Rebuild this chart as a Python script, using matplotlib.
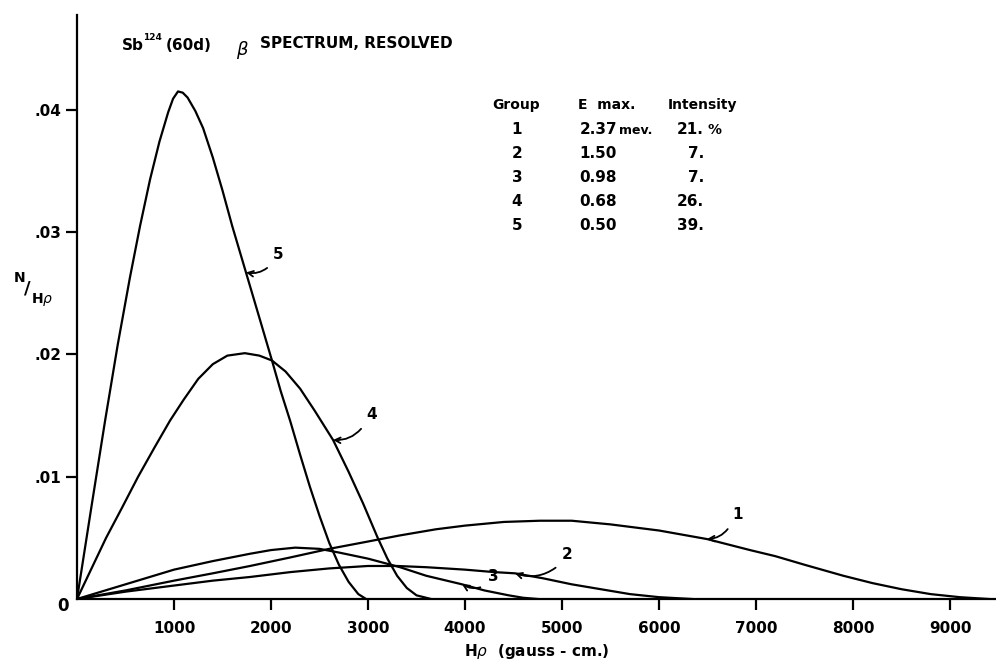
import matplotlib
matplotlib.use('Agg')
import matplotlib.pyplot as plt

plt.rcParams['font.family'] = ['DejaVu Sans']

# curve points: H-rho (gauss-cm) and N/H-rho
g1_x = [0, 500, 1000, 1400, 1784, 2200, 2600, 3000, 3330, 3700, 4000, 4400, 4773, 5100, 5500,
        6000, 6495, 6938, 7200, 7500, 7900, 8200, 8500, 8800, 9100, 9400]
g1_y = [0, 0.0007, 0.0015, 0.0021, 0.0027, 0.0034, 0.0041, 0.0047, 0.0052, 0.0057, 0.0060, 0.0063,
        0.0064, 0.0064, 0.0061, 0.0056, 0.0049, 0.0040, 0.0035, 0.0028, 0.0019, 0.0013, 0.0008,
        0.0004, 0.00015, 0]

g2_x = [0, 500, 1000, 1400, 1784, 2200, 2600, 3000, 3300, 3600, 4000, 4300, 4515, 4800, 5100,
        5400, 5700, 6000, 6340]
g2_y = [0, 0.0006, 0.0011, 0.0015, 0.0018, 0.0022, 0.0025, 0.0027, 0.0027, 0.0026, 0.0024, 0.0022,
        0.0021, 0.0017, 0.0012, 0.0008, 0.0004, 0.00015, 0]

g3_x = [0, 500, 1000, 1400, 1784, 2000, 2250, 2500, 2700, 3000, 3330, 3600, 3969, 4200, 4450,
        4600, 4750]
g3_y = [0, 0.0012, 0.0024, 0.0031, 0.0037, 0.0040, 0.0042, 0.0041, 0.0038, 0.0033, 0.0026, 0.0019,
        0.0012, 0.0007, 0.0003, 0.0001, 0]

g4_x = [0, 150, 300, 460, 630, 800, 960, 1100, 1250, 1400, 1550, 1730, 1880, 2010, 2150, 2300,
        2450, 2640, 2800, 2950, 3100, 3200, 3300, 3400, 3500, 3650]
g4_y = [0, 0.0025, 0.0050, 0.0074, 0.0100, 0.0124, 0.0146, 0.0163, 0.0180, 0.0192, 0.0199, 0.0201,
        0.0199, 0.0195, 0.0186, 0.0172, 0.0154, 0.0130, 0.0104, 0.0078, 0.0050, 0.0033, 0.0019,
        0.0009, 0.0003, 0]

g5_x = [0, 150, 290, 420, 546, 650, 753, 850, 940, 990, 1041, 1090, 1140, 1220, 1300, 1400, 1500,
        1600, 1742, 1880, 2010, 2100, 2200, 2300, 2400, 2500, 2600, 2700, 2800, 2900, 2980]
g5_y = [0, 0.0076, 0.0146, 0.0208, 0.0263, 0.0305, 0.0343, 0.0374, 0.0398, 0.0409, 0.0415, 0.0414,
        0.0410, 0.0399, 0.0385, 0.0361, 0.0334, 0.0305, 0.0267, 0.0230, 0.0195, 0.0170, 0.0145,
        0.0118, 0.0092, 0.0068, 0.0046, 0.0028, 0.0014, 0.0004, 0]

groups = ['1', '2', '3', '4', '5']
e_max = ['2.37', '1.50', '0.98', '0.68', '0.50']
intensity = ['21.', '7.', '7.', '26.', '39.']

# arrow tips on curves and label spots
tips = [(6495, 0.0049), (4515, 0.0021), (3969, 0.0012), (2639, 0.0130), (1742, 0.0267)]
labpos = [(6753, 0.0063), (5000, 0.0030), (4237, 0.00123), (2979, 0.01447), (2021, 0.02755)]

W, H = 996, 667
fig = plt.figure(figsize=(W / 100, H / 100), dpi=100)
ax = fig.add_axes([77 / W, 1 - 599 / H, (W - 77) / W, (599 - 15) / H])

for xs, ys in [(g1_x, g1_y), (g2_x, g2_y), (g3_x, g3_y), (g4_x, g4_y), (g5_x, g5_y)]:
    ax.plot(xs, ys, color='black', lw=1.6, solid_joinstyle='round')

ax.set_xlim(0, 9474)
ax.set_ylim(0, 0.04775)
for s in ['top', 'right']:
    ax.spines[s].set_visible(False)
for s in ['left', 'bottom']:
    ax.spines[s].set_linewidth(1.6)

ax.set_xticks(range(1000, 10000, 1000))
ax.set_xticklabels([str(v) for v in range(1000, 10000, 1000)], fontsize=11, fontweight='bold')
ax.set_yticks([0.01, 0.02, 0.03, 0.04])
ax.set_yticklabels(['.01', '.02', '.03', '.04'], fontsize=11, fontweight='bold')
ax.tick_params(axis='both', direction='out', length=8, width=1.6, pad=3)
ax.tick_params(axis='x', pad=8)
ax.text(-80, -0.0006, '0', ha='right', va='center', fontsize=12, fontweight='bold')

ax.set_xlabel(r'H$\rho$  (gauss - cm.)', fontsize=11, fontweight='bold', labelpad=4)

# y label N/H rho
fig.text(14 / W, 1 - 278 / H, 'N', fontsize=10, fontweight='bold', ha='left', va='center')
fig.text(24 / W, 1 - 289 / H, '/', fontsize=13, fontweight='bold', ha='left', va='center')
fig.text(31 / W, 1 - 300 / H, r'H$\rho$', fontsize=10, fontweight='bold', ha='left', va='center')

# title
fig.text(122 / W, 1 - 45 / H, 'Sb', fontsize=11, fontweight='bold', va='center')
fig.text(143 / W, 1 - 38 / H, '124', fontsize=6.5, fontweight='bold', va='center')
fig.text(166 / W, 1 - 45 / H, '(60d)', fontsize=11, fontweight='bold', va='center')
fig.text(236 / W, 1 - 50 / H, r'$\beta$', fontsize=13, va='center')
fig.text(260 / W, 1 - 44 / H, 'SPECTRUM, RESOLVED', fontsize=11, fontweight='bold', va='center')

# table of groups
rows_y = [130, 153, 178, 202, 226]
fig.text(516 / W, 1 - 105 / H, 'Group', fontsize=10, fontweight='bold', ha='center', va='center')
fig.text(578 / W, 1 - 105 / H, 'E  max.', fontsize=10, fontweight='bold', ha='left', va='center')
fig.text(702 / W, 1 - 105 / H, 'Intensity', fontsize=10, fontweight='bold', ha='center', va='center')
for i, yy in enumerate(rows_y):
    fig.text(517 / W, 1 - yy / H, groups[i], fontsize=11, fontweight='bold', ha='center', va='center')
    fig.text(617 / W, 1 - yy / H, e_max[i], fontsize=11, fontweight='bold', ha='right', va='center')
    fig.text(704 / W, 1 - yy / H, intensity[i], fontsize=11, fontweight='bold', ha='right', va='center')
fig.text(619 / W, 1 - 131 / H, 'mev.', fontsize=9, fontweight='bold', ha='left', va='center')
fig.text(707 / W, 1 - 130 / H, '%', fontsize=10, fontweight='bold', ha='left', va='center')

# curve labels with arrows
for i in range(5):
    ax.annotate('', xy=tips[i], xytext=labpos[i],
                arrowprops=dict(arrowstyle='->', color='black', lw=1.3,
                                shrinkA=6, shrinkB=0,
                                connectionstyle='arc3,rad=-0.3'))
    ax.text(labpos[i][0], labpos[i][1], groups[i], fontsize=11, fontweight='bold',
            ha='left', va='bottom')

fig.savefig('out.png', dpi=100)
